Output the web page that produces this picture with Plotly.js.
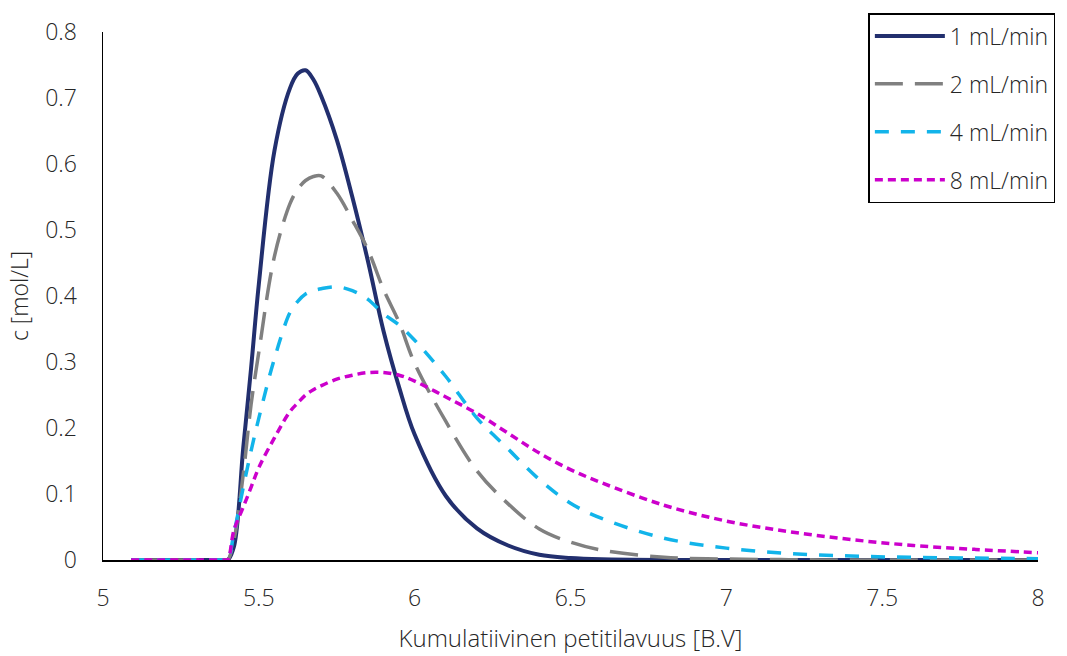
<!DOCTYPE html>
<html>
<head>
<meta charset="utf-8">
<script src="https://cdn.plot.ly/plotly-3.0.1.min.js"></script>
<style>html,body{margin:0;padding:0;background:#fff;}#chart{width:1067px;height:656px;}</style>
</head>
<body>
<div id="chart"></div>
<script>
// Cumulative bed volume [B.V]
const xBV = [5.09, 5.2, 5.3, 5.39, 5.4, 5.42, 5.45, 5.475, 5.5, 5.55, 5.6, 5.625, 5.65, 5.675, 5.7, 5.75, 5.8, 5.85, 5.9, 5.95, 6.0, 6.1, 6.2, 6.3, 6.4, 6.5, 6.6, 6.8, 7.0, 7.2, 7.4, 7.6, 7.8, 8.0];

const c1 = [0, 0, 0, 0, 0, 0.02, 0.17, 0.29, 0.418, 0.62, 0.715, 0.737, 0.742, 0.728, 0.703, 0.637, 0.55, 0.453, 0.347, 0.262, 0.19, 0.097, 0.048, 0.022, 0.008, 0.003, 0.001, 0, 0, 0, 0, 0, 0, 0];
const c2 = [0, 0, 0, 0, 0, 0.03, 0.13, 0.235, 0.315, 0.46, 0.54, 0.562, 0.575, 0.581, 0.582, 0.556, 0.515, 0.47, 0.41, 0.36, 0.298, 0.21, 0.135, 0.085, 0.047, 0.027, 0.015, 0.004, 0.0015, 0.0005, 0, 0, 0, 0];
const c4 = [0, 0, 0, 0, 0, 0.04, 0.11, 0.165, 0.215, 0.305, 0.375, 0.392, 0.403, 0.408, 0.411, 0.414, 0.408, 0.395, 0.373, 0.356, 0.333, 0.278, 0.215, 0.168, 0.122, 0.086, 0.063, 0.033, 0.018, 0.01, 0.006, 0.004, 0.003, 0.002];
const c8 = [0, 0, 0, 0, 0, 0.045, 0.08, 0.11, 0.14, 0.185, 0.225, 0.238, 0.25, 0.258, 0.264, 0.274, 0.28, 0.284, 0.284, 0.28, 0.271, 0.247, 0.222, 0.192, 0.162, 0.137, 0.117, 0.083, 0.059, 0.043, 0.031, 0.022, 0.016, 0.011];

const seriesNames = ['1 mL/min', '2 mL/min', '4 mL/min', '8 mL/min'];
const xTicks = [5, 5.5, 6, 6.5, 7, 7.5, 8];
const xTickText = ['5', '5.5', '6', '6.5', '7', '7.5', '8'];
const yTicks = [0, 0.1, 0.2, 0.3, 0.4, 0.5, 0.6, 0.7, 0.8];
const yTickText = ['0', '0.1', '0.2', '0.3', '0.4', '0.5', '0.6', '0.7', '0.8'];

const styles = [
  {color: '#222F6E', width: 4, dash: 'solid'},
  {color: '#808080', width: 3.5, dash: '28px,12px'},
  {color: '#12B4EA', width: 3.5, dash: '14px,12px'},
  {color: '#CC00CC', width: 3.5, dash: '8px,5px'}
];
const ys = [c1, c2, c4, c8];

const traces = ys.map((y, i) => ({
  type: 'scatter', mode: 'lines',
  x: xBV, y: y, name: seriesNames[i],
  legendgroup: 'g' + i,
  line: {color: styles[i].color, width: styles[i].width, dash: styles[i].dash, shape: 'spline', smoothing: 1},
  hoverinfo: 'skip'
}));

const fontFam = '"Open Sans", "Segoe UI", sans-serif';
const txtFont = {family: fontFam, size: 23, color: '#262626', weight: 300};
const layout = {
  width: 1067, height: 656,
  margin: {l: 103, r: 27, t: 32, b: 96},
  paper_bgcolor: '#ffffff', plot_bgcolor: '#ffffff',
  font: txtFont,
  showlegend: true,
  legend: {
    xref: 'paper', yref: 'paper',
    x: (870 - 103) / 937, y: 1 + (32 - 13) / 528, xanchor: 'left', yanchor: 'top',
    bordercolor: '#000', borderwidth: 1.5, bgcolor: '#fff',
    font: txtFont,
    itemwidth: 70, tracegroupgap: 15, traceorder: 'grouped'
  },
  xaxis: {
    range: [5, 8], tickvals: xTicks, ticktext: xTickText,
    showgrid: false, zeroline: false, showline: true, linecolor: '#000', linewidth: 1.5,
    ticks: 'outside', ticklen: 17, tickcolor: 'rgba(0,0,0,0)',
    tickfont: txtFont,
    title: {text: 'Kumulatiivinen petitilavuus [B.V]', font: {family: fontFam, size: 24, color: '#262626', weight: 300}, standoff: 18}
  },
  yaxis: {
    range: [0, 0.8], tickvals: yTicks, ticktext: yTickText,
    showgrid: false, zeroline: false, showline: true, linecolor: '#000', linewidth: 1.5,
    ticks: 'outside', ticklen: 20, tickcolor: 'rgba(0,0,0,0)',
    tickfont: txtFont,
    title: {text: 'c [mol/L]', font: txtFont, standoff: 10}
  }
};

Plotly.newPlot('chart', traces, layout, {staticPlot: true, displayModeBar: false});
</script>
</body>
</html>
